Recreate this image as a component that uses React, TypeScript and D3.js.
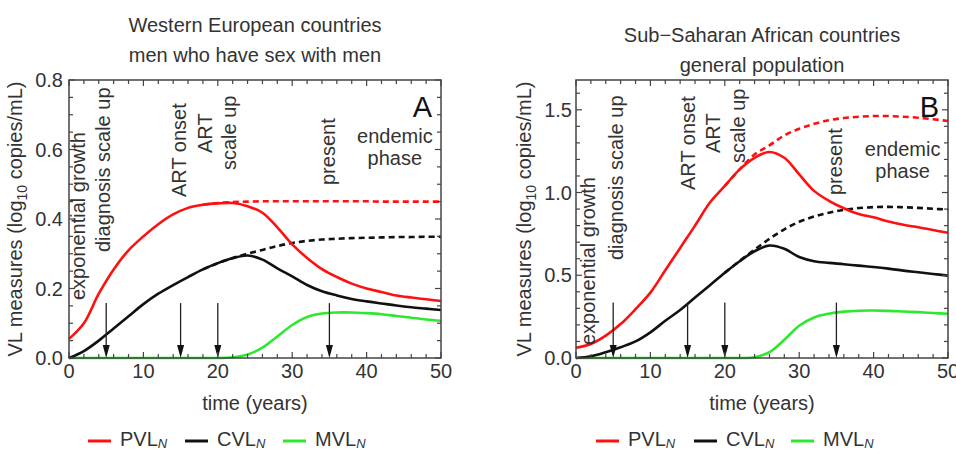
import React from 'react';
import * as d3 from 'd3';

// ---------- data ----------
const T = [0, 2, 4, 6, 8, 10, 12, 14, 16, 18, 20, 22, 24, 26, 28, 30, 32, 34, 36, 38, 40, 42, 44, 46, 48, 50];
const T_DASH_A = [18, 20, 22, 24, 26, 28, 30, 32, 34, 36, 38, 40, 42, 44, 46, 48, 50];
const T_DASH_B = [20, 22, 24, 26, 28, 30, 32, 34, 36, 38, 40, 42, 44, 46, 48, 50];

// Panel A: Western European countries, MSM
const pvlA = [0.055, 0.10, 0.185, 0.255, 0.31, 0.35, 0.385, 0.413, 0.432, 0.441, 0.445, 0.446, 0.437, 0.418, 0.376, 0.327, 0.288, 0.256, 0.233, 0.214, 0.20, 0.19, 0.18, 0.174, 0.169, 0.164];
const pvlA_noART = [0.441, 0.446, 0.449, 0.450, 0.451, 0.451, 0.451, 0.451, 0.451, 0.451, 0.451, 0.451, 0.450, 0.450, 0.450, 0.450, 0.450];
const cvlA = [0, 0.02, 0.05, 0.085, 0.12, 0.155, 0.185, 0.21, 0.233, 0.255, 0.273, 0.287, 0.295, 0.283, 0.258, 0.235, 0.21, 0.192, 0.18, 0.17, 0.163, 0.157, 0.151, 0.146, 0.142, 0.138];
const cvlA_noART = [0.255, 0.273, 0.288, 0.300, 0.311, 0.322, 0.331, 0.337, 0.341, 0.343, 0.345, 0.346, 0.347, 0.348, 0.348, 0.349, 0.349];
const mvlA = [0, 0, 0, 0, 0, 0, 0, 0, 0, 0, 0, 0.002, 0.01, 0.03, 0.062, 0.095, 0.118, 0.128, 0.131, 0.131, 0.129, 0.126, 0.121, 0.116, 0.111, 0.107];

// Panel B: Sub-Saharan African countries, general population
const pvlB = [0.062, 0.085, 0.135, 0.205, 0.295, 0.395, 0.53, 0.665, 0.80, 0.94, 1.04, 1.14, 1.21, 1.245, 1.21, 1.11, 1.01, 0.95, 0.905, 0.87, 0.85, 0.825, 0.805, 0.79, 0.773, 0.757];
const pvlB_noART = [1.04, 1.14, 1.23, 1.285, 1.345, 1.385, 1.415, 1.437, 1.45, 1.458, 1.462, 1.462, 1.458, 1.452, 1.443, 1.432];
const cvlB = [0, 0.01, 0.035, 0.065, 0.10, 0.155, 0.225, 0.29, 0.365, 0.44, 0.515, 0.585, 0.645, 0.68, 0.66, 0.61, 0.585, 0.575, 0.567, 0.558, 0.55, 0.54, 0.528, 0.518, 0.508, 0.498];
const cvlB_noART = [0.515, 0.587, 0.655, 0.72, 0.778, 0.823, 0.855, 0.878, 0.895, 0.906, 0.912, 0.913, 0.911, 0.907, 0.902, 0.897];
const mvlB = [0, 0, 0, 0, 0, 0, 0, 0, 0, 0, 0, 0, 0.005, 0.035, 0.11, 0.195, 0.245, 0.268, 0.28, 0.286, 0.287, 0.285, 0.281, 0.277, 0.272, 0.267];

const arrowTimes = [5, 15, 20, 35];
const xMajorTicks = [0, 10, 20, 30, 40, 50];
const yMajorTicksA = [0, 0.2, 0.4, 0.6, 0.8];
const yMajorTicksB = [0, 0.5, 1.0, 1.5];

const titlesA = ['Western European countries', 'men who have sex with men'];
const titlesB = ['Sub\u2212Saharan African countries', 'general population'];

const legendLabels = ['PVL', 'CVL', 'MVL'];

// ---------- style ----------
const FONT = "'Liberation Sans', Arial, sans-serif";
const RED = '#ff1010';
const BLACK = '#111111';
const GREEN = '#2ee82e';
const TXT = '#333333';

type Cfg = {
  left: number; right: number; yMax: number; yMajor: number[]; yMinorStep: number;
  pvl: number[]; pvlD: number[]; cvl: number[]; cvlD: number[]; mvl: number[]; tD: number[];
  arrowTop: number; titles: string[]; titleY: number; letter: string;
  notes: { text: string; t: number; yb: number }[];
  endemic: { t: number; y1: number };
  legendX: number[];
  yLabelX: number;
  tickGap: number;
};

function Panel({ c }: { c: Cfg }) {
  const top = 80, bottom = 358;
  const x = d3.scaleLinear().domain([0, 50]).range([c.left, c.right]);
  const y = d3.scaleLinear().domain([0, c.yMax]).range([bottom, top]);
  const line = d3.line<[number, number]>().x(d => x(d[0])).y(d => y(d[1])).curve(d3.curveCatmullRom.alpha(0.5));
  const pts = (ts: number[], vs: number[]) => ts.map((t, i) => [t, vs[i]] as [number, number]);

  const xMinor = d3.range(0, 50.001, 2);
  const yMinor = d3.range(0, c.yMax + 1e-9, c.yMinorStep);
  const fmt = d3.format('.1f');
  const isMajorX = (v: number) => xMajorTicks.some(m => Math.abs(m - v) < 1e-6);
  const isMajorY = (v: number) => c.yMajor.some(m => Math.abs(m - v) < 1e-6);
  const cx = (c.left + c.right) / 2;

  return (
    <g fontFamily={FONT} fill={TXT}>
      {c.titles.map((s, i) => (
        <text key={i} x={cx} y={c.titleY + i * 30} textAnchor="middle" fontSize={20}>{s}</text>
      ))}
      <path d={line(pts(T, c.mvl))!} fill="none" stroke={GREEN} strokeWidth={2.6} />
      <path d={line(pts(c.tD, c.cvlD))!} fill="none" stroke={BLACK} strokeWidth={2.6} strokeDasharray="6,4" />
      <path d={line(pts(T, c.cvl))!} fill="none" stroke={BLACK} strokeWidth={2.6} />
      <path d={line(pts(c.tD, c.pvlD))!} fill="none" stroke={RED} strokeWidth={2.6} strokeDasharray="6,4" />
      <path d={line(pts(T, c.pvl))!} fill="none" stroke={RED} strokeWidth={2.6} />
      {arrowTimes.map(t => {
        const ax = x(t), y0 = y(0), yt = y(c.arrowTop);
        return (
          <g key={t}>
            <line x1={ax} x2={ax} y1={yt} y2={y0 - 10} stroke="#222" strokeWidth={1.3} />
            <path d={`M${ax - 3.5},${y0 - 13}L${ax + 3.5},${y0 - 13}L${ax},${y0}Z`} fill="#111" />
          </g>
        );
      })}
      <rect x={c.left} y={top} width={c.right - c.left} height={bottom - top} fill="none" stroke="#444" strokeWidth={1.5} />
      {xMinor.map(v => {
        const L = isMajorX(v) ? 6 : 4;
        return (
          <g key={'x' + v}>
            <line x1={x(v)} x2={x(v)} y1={bottom} y2={bottom - L} stroke="#444" strokeWidth={1.2} />
            <line x1={x(v)} x2={x(v)} y1={top} y2={top + L} stroke="#444" strokeWidth={1.2} />
          </g>
        );
      })}
      {xMajorTicks.map(v => (
        <text key={'xl' + v} x={x(v)} y={bottom + 20} textAnchor="middle" fontSize={20}>{v}</text>
      ))}
      {yMinor.map(v => {
        const L = isMajorY(v) ? 6 : 4;
        return (
          <g key={'y' + v}>
            <line x1={c.left} x2={c.left + L} y1={y(v)} y2={y(v)} stroke="#444" strokeWidth={1.2} />
            <line x1={c.right} x2={c.right - L} y1={y(v)} y2={y(v)} stroke="#444" strokeWidth={1.2} />
          </g>
        );
      })}
      {c.yMajor.map(v => (
        <text key={'yl' + v} x={c.left - c.tickGap} y={y(v)} dy="0.36em" textAnchor="end" fontSize={20}>{fmt(v)}</text>
      ))}
      <text x={cx} y={410} textAnchor="middle" fontSize={20}>time (years)</text>
      <text transform={`translate(${c.yLabelX},${(top + bottom) / 2}) rotate(-90)`} textAnchor="middle" fontSize={20}>
        <tspan>VL measures (log</tspan>
        <tspan fontSize={14} dy={5}>10</tspan>
        <tspan dy={-5}> copies/mL)</tspan>
      </text>
      {c.notes.map((n, i) => (
        <text key={'n' + i} transform={`translate(${x(n.t)},${n.yb}) rotate(-90)`} dy="0.33em" fontSize={20}>{n.text}</text>
      ))}
      <text x={x(c.endemic.t)} y={c.endemic.y1} textAnchor="middle" fontSize={20}>endemic</text>
      <text x={x(c.endemic.t)} y={c.endemic.y1 + 22} textAnchor="middle" fontSize={20}>phase</text>
      <text x={c.right - 9} y={117} textAnchor="end" fontSize={29} fill="#111">{c.letter}</text>
      {legendLabels.map((lab, i) => {
        const lx = c.legendX[i];
        const col = [RED, BLACK, GREEN][i];
        return (
          <g key={lab}>
            <line x1={lx} x2={lx + 23} y1={441} y2={441} stroke={col} strokeWidth={3} />
            <text x={lx + 32} y={446} fontSize={20}>
              <tspan>{lab}</tspan>
              <tspan fontSize={13} fontStyle="italic" dy={2}>N</tspan>
            </text>
          </g>
        );
      })}
    </g>
  );
}

const cfgA: Cfg = {
  left: 69, right: 441, yMax: 0.8, yMajor: yMajorTicksA, yMinorStep: 0.05,
  pvl: pvlA, pvlD: pvlA_noART, cvl: cvlA, cvlD: cvlA_noART, mvl: mvlA, tD: T_DASH_A,
  arrowTop: 0.158, titles: titlesA, titleY: 32, letter: 'A',
  notes: [
    { text: 'exponential growth', t: 1.3, yb: 300 },
    { text: 'diagnosis scale up', t: 4.6, yb: 252 },
    { text: 'ART onset', t: 14.9, yb: 197 },
    { text: 'ART', t: 18.3, yb: 153 },
    { text: 'scale up', t: 21.6, yb: 170 },
    { text: 'present', t: 34.8, yb: 185 },
  ],
  endemic: { t: 43.8, y1: 143 },
  legendX: [88, 185, 283],
  yLabelX: 22,
  tickGap: 6,
};

const cfgB: Cfg = {
  left: 576, right: 948, yMax: 1.68, yMajor: yMajorTicksB, yMinorStep: 0.1,
  pvl: pvlB, pvlD: pvlB_noART, cvl: cvlB, cvlD: cvlB_noART, mvl: mvlB, tD: T_DASH_B,
  arrowTop: 0.335, titles: titlesB, titleY: 42, letter: 'B',
  notes: [
    { text: 'exponential growth', t: 1.6, yb: 345 },
    { text: 'diagnosis scale up', t: 5.4, yb: 260 },
    { text: 'ART onset', t: 15.1, yb: 190 },
    { text: 'ART', t: 18.4, yb: 153 },
    { text: 'scale up', t: 21.8, yb: 163 },
    { text: 'present', t: 34.9, yb: 195 },
  ],
  endemic: { t: 43.9, y1: 156 },
  legendX: [596, 694, 791],
  yLabelX: 531,
  tickGap: 4,
};

export default function App() {
  return (
    <svg width={956} height={450} style={{ position: 'absolute', left: 0, top: 0, background: '#fff' }}>
      <rect width={956} height={450} fill="#fff" />
      <Panel c={cfgA} />
      <Panel c={cfgB} />
    </svg>
  );
}
